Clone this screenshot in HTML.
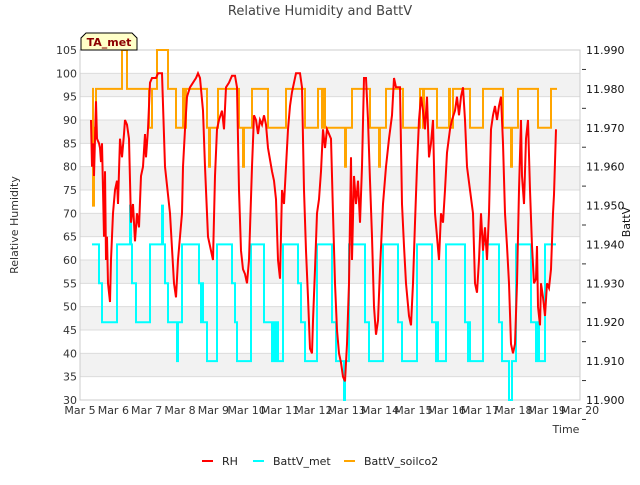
<!DOCTYPE html>
<html><head><meta charset="utf-8"><style>
body{margin:0;background:#fff;font-family:"Liberation Sans","DejaVu Sans",sans-serif}
svg text{font-family:"DejaVu Sans","Liberation Sans",sans-serif}
</style></head><body>
<svg id="c" width="640" height="480" xmlns="http://www.w3.org/2000/svg"></svg>
<script>
const xTickLabels=["Mar 5","Mar 6","Mar 7","Mar 8","Mar 9","Mar 10","Mar 11","Mar 12","Mar 13","Mar 14","Mar 15","Mar 16","Mar 17","Mar 18","Mar 19","Mar 20"];
const leftTicks=[30,35,40,45,50,55,60,65,70,75,80,85,90,95,100,105];
const rightTicks=[11.900,11.910,11.920,11.930,11.940,11.950,11.960,11.970,11.980,11.990];
const rhT=[.33,.36,.39,.42,.48,.51,.57,.60,.63,.66,.72,.75,.78,.81,.84,.90,.93,.99,1.05,1.11,1.14,1.20,1.26,1.32,1.35,1.41,1.47,1.53,1.59,1.65,1.71,1.77,1.83,1.89,1.95,1.98,2.04,2.10,2.16,2.28,2.34,2.46,2.55,2.70,2.82,2.88,2.94,3.06,3.09,3.15,3.21,3.30,3.39,3.48,3.54,3.60,3.69,3.75,3.84,3.90,3.99,4.05,4.11,4.17,4.26,4.32,4.38,4.47,4.56,4.65,4.71,4.77,4.83,4.89,4.95,5.01,5.07,5.16,5.22,5.28,5.34,5.40,5.46,5.52,5.58,5.64,5.76,5.82,5.88,5.94,6.00,6.06,6.12,6.18,6.24,6.30,6.36,6.42,6.48,6.60,6.66,6.72,6.78,6.84,6.90,6.96,6.99,7.05,7.11,7.17,7.23,7.29,7.35,7.41,7.47,7.53,7.59,7.65,7.71,7.77,7.83,7.89,7.95,8.01,8.07,8.13,8.16,8.22,8.28,8.34,8.40,8.46,8.52,8.58,8.64,8.70,8.76,8.82,8.88,8.94,9.00,9.09,9.18,9.27,9.36,9.42,9.48,9.60,9.66,9.72,9.78,9.87,9.93,9.99,10.05,10.11,10.17,10.23,10.29,10.35,10.41,10.47,10.53,10.59,10.65,10.71,10.77,10.83,10.89,10.95,11.01,11.10,11.16,11.25,11.31,11.37,11.43,11.49,11.55,11.61,11.70,11.79,11.85,11.91,11.97,12.03,12.09,12.15,12.21,12.27,12.33,12.39,12.45,12.51,12.57,12.63,12.69,12.75,12.81,12.87,12.93,12.99,13.05,13.11,13.17,13.23,13.26,13.32,13.38,13.44,13.50,13.56,13.62,13.68,13.71,13.74,13.80,13.83,13.89,13.95,14.01,14.07,14.13,14.19,14.22,14.28];
const rhV=[90,80,85,78,94,86,85,84,81,85,65,79,60,65,55,51,60,70,75,77,72,86,82,87,90,89,86,68,72,64,70,67,78,80,87,82,88,98,99,99,100,100,80,70,55,52,60,70,80,88,95,97,98,99,100,99,92,80,65,63,60,78,88,90,92,88,97,98,99.5,99.5,97,75,62,58,57,55,60,80,91,90,87,90,89,91,89,84,79,77,73,60,56,75,72,80,88,93,96,98,100,100,97,75,62,52,41,40,47,58,70,73,79,88,84,88,87,86,70,55,45,40,38,35,34,42,55,82,60,78,72,77,68,80,99,99,90,77,65,50,44,47,58,72,80,86,91,99,97,97,72,63,55,48,46,55,68,80,90,95,92,88,95,82,85,90,70,65,60,70,68,75,83,88,90,92,95,91,95,97,90,80,75,70,55,53,60,70,62,67,60,70,88,91,93,90,93,95,85,70,63,55,42,40,42,55,75,90,78,72,86,90,75,63,55,56,63,50,46,55,52,48,55,54,58,70,74,88];
const metT=[.36,.57,.66,1.11,1.50,1.53,1.56,1.68,2.10,2.46,2.49,2.55,2.64,2.91,2.94,3.06,3.57,3.63,3.66,3.69,3.81,4.11,4.56,4.65,4.71,5.13,5.52,5.76,5.82,5.85,5.91,5.94,6.09,6.54,6.63,6.75,7.11,7.56,7.68,7.92,7.95,8.07,8.55,8.67,9.09,9.54,9.66,10.11,10.56,10.68,10.71,10.74,10.98,11.55,11.64,11.67,11.70,12.09,12.57,12.66,12.87,12.96,13.08,13.53,13.68,13.74,13.77,13.95,14.28];
const metV=[11.94,11.93,11.92,11.94,11.95,11.94,11.93,11.92,11.94,11.95,11.94,11.93,11.92,11.91,11.92,11.94,11.93,11.92,11.93,11.92,11.91,11.94,11.93,11.92,11.91,11.94,11.92,11.91,11.92,11.91,11.92,11.91,11.94,11.93,11.92,11.91,11.94,11.92,11.91,11.90,11.91,11.94,11.92,11.91,11.94,11.92,11.91,11.94,11.92,11.91,11.92,11.91,11.94,11.92,11.91,11.92,11.91,11.94,11.92,11.91,11.90,11.91,11.94,11.92,11.91,11.92,11.91,11.94,11.94];
const soilT=[.36,.39,.42,.48,1.26,1.41,2.07,2.16,2.31,2.64,2.88,3.09,3.12,3.18,3.81,3.87,3.90,4.14,4.77,4.89,4.92,5.16,5.64,6.18,6.75,7.14,7.26,7.29,7.35,7.95,7.98,8.16,8.70,8.97,9.00,9.18,9.69,10.20,10.29,10.32,10.71,11.07,11.10,11.19,11.70,12.09,12.69,12.93,12.96,13.14,13.74,14.13,14.31];
const soilV=[11.98,11.95,11.97,11.98,11.99,11.98,11.97,11.98,11.99,11.98,11.97,11.98,11.97,11.98,11.97,11.96,11.97,11.98,11.97,11.96,11.97,11.98,11.97,11.98,11.97,11.98,11.97,11.98,11.97,11.96,11.97,11.98,11.97,11.96,11.97,11.98,11.97,11.98,11.97,11.98,11.97,11.98,11.97,11.98,11.97,11.98,11.97,11.96,11.97,11.98,11.97,11.98,11.98];

const L=80,R=580,T=50,B=400,NS="http://www.w3.org/2000/svg";
const svg=document.getElementById('c');
const xS=d=>L+d*(R-L)/15;
const yL=v=>B-(v-30)*(B-T)/75;
const yR=v=>B-(v-11.9)*(B-T)/0.09;
function mk(tag,attrs,parent){const e=document.createElementNS(NS,tag);for(const k in attrs)e.setAttribute(k,attrs[k]);(parent||svg).appendChild(e);return e;}

const bands=mk('g',{});


for(let v=35;v<105;v+=10){mk('rect',{x:L,y:yL(v+5),width:R-L,height:yL(v)-yL(v+5),fill:'#f2f2f2'},bands);}
const grid=mk('g',{stroke:'#dcdcdc','stroke-width':1});


leftTicks.forEach(v=>mk('line',{x1:L,x2:R,y1:yL(v),y2:yL(v)},grid));
mk('rect',{x:L,y:T,width:R-L,height:B-T,fill:'none',stroke:'#cccccc'});

const lt=mk('g',{'font-size':11,fill:'#333','text-anchor':'end'});


leftTicks.forEach(v=>{const t=mk('text',{x:L-3,y:yL(v)+4},lt);t.textContent=v;});
const rt=mk('g',{'font-size':11,fill:'#111'});


rightTicks.forEach(v=>{const t=mk('text',{x:586,y:yR(v)+4},rt);t.textContent=v.toFixed(3);
 mk('line',{x1:R+2,x2:R+6,y1:yR(v)+ (B-T)/18,y2:yR(v)+(B-T)/18,stroke:'#333'},rt);});
const xt=mk('g',{'font-size':11,fill:'#333','text-anchor':'middle'});


xTickLabels.forEach((s,i)=>{const t=mk('text',{x:xS(i),y:414},xt);t.textContent=s;});

function stepPath(ts,vs,ys){let d='';for(let i=0;i<ts.length;i++){const x=xS(ts[i]).toFixed(1),y=ys(vs[i]).toFixed(1);if(i==0)d='M'+x+' '+y;else{d+=' H'+x+' V'+y;}}return d;}
const pMet=mk('path',{d:stepPath(metT,metV,yR),fill:'none',stroke:'#00ffff','stroke-width':2});


const pSoil=mk('path',{d:stepPath(soilT,soilV,yR),fill:'none',stroke:'#ffa500','stroke-width':2});


const pRH=mk('path',{d:rhT.map((t,i)=>(i?'L':'M')+xS(t).toFixed(1)+' '+yL(rhV[i]).toFixed(1)).join(' '),fill:'none',stroke:'#ff0000','stroke-width':2});


</script>
<svg style="position:absolute;left:0;top:0" width="640" height="480" xmlns="http://www.w3.org/2000/svg">
<text x="320" y="15" font-size="13" fill="#444" text-anchor="middle">Relative Humidity and BattV</text>
<g>
<path d="M86 33 H132 L137 38 V50 H81 V38 Z" fill="#ffffc8" stroke="#000" stroke-width="1"/>
<text x="109" y="46" font-size="11" font-weight="bold" fill="#8b0000" text-anchor="middle">TA_met</text></g>
<text x="18" y="225" font-size="11" fill="#333" text-anchor="middle" transform="rotate(-90 18 225)">Relative Humidity</text>
<text x="630" y="222" font-size="11" fill="#111" text-anchor="middle" transform="rotate(-90 630 222)">BattV</text>
<text x="566" y="433" font-size="11" fill="#333" text-anchor="middle">Time</text>
<g font-size="11" fill="#222">
<g><rect x="202" y="460" width="11" height="2" fill="#ff0000"/><text x="222" y="465">RH</text></g>
<g><rect x="253" y="460" width="11" height="2" fill="#00ffff"/><text x="273" y="465">BattV_met</text></g>
<g><rect x="344" y="460" width="11" height="2" fill="#ffa500"/><text x="364" y="465">BattV_soilco2</text></g>
</g>
</svg>
</body></html>
